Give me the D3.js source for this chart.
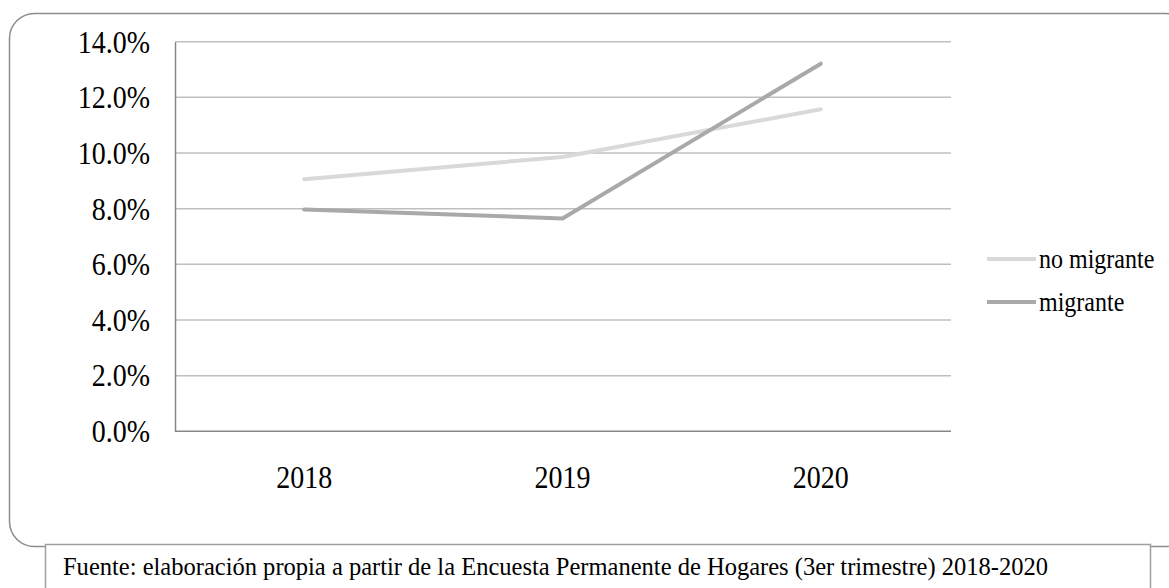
<!DOCTYPE html>
<html>
<head>
<meta charset="utf-8">
<script src="https://cdn.jsdelivr.net/npm/d3@7"></script>
<style>
  html, body { margin: 0; padding: 0; background: #fff; }
  svg { display: block; }
  text { font-family: "Liberation Serif", "Times New Roman", serif; fill: #000; }
  .tall { transform-box: fill-box; transform-origin: center; transform: scaleY(1.15); }
</style>
</head>
<body>
<svg id="chart" width="1169" height="588"></svg>
<script>
const categories = ["2018", "2019", "2020"];
const noMigrante = [0.0906, 0.0986, 0.1157];
const migrante = [0.0797, 0.0765, 0.1321];
const yTicks = [0, 0.02, 0.04, 0.06, 0.08, 0.10, 0.12, 0.14];
const seriesNames = ["no migrante", "migrante"];
const seriesColors = ["#d9d9d9", "#a9a9a9"];
const sourceText = "Fuente: elaboración propia a partir de la Encuesta Permanente de Hogares (3er trimestre) 2018-2020";
const FONT = "Liberation Serif";

const svg = d3.select("#chart");

// outer rounded frame
svg.append("rect")
  .attr("x", 9.5).attr("y", 13.5)
  .attr("width", 1181).attr("height", 533)
  .attr("rx", 25).attr("ry", 25)
  .attr("fill", "#fff").attr("stroke", "#8c8c8c").attr("stroke-width", 1.5);

const x = d3.scaleBand().domain(categories).range([175, 950]).padding(0);
const y = d3.scaleLinear().domain([0, 0.14]).range([431.3, 41.7]);

// gridlines
svg.append("g").selectAll("line").data(yTicks.filter(d => d > 0)).join("line")
  .attr("x1", 175).attr("x2", 951)
  .attr("y1", d => y(d)).attr("y2", d => y(d))
  .attr("stroke", "#bfbfbf").attr("stroke-width", 1.5);

// y axis
const yAxis = d3.axisLeft(y).tickValues(yTicks).tickSize(0).tickPadding(25)
  .tickFormat(d3.format(".1%"));
const gy = svg.append("g").attr("transform", "translate(175,0)").call(yAxis)
  .attr("font-family", FONT);
gy.select(".domain").attr("stroke", "#878787").attr("stroke-width", 1.5);
gy.selectAll("text").attr("class", "tall").attr("font-size", 28).attr("font-family", FONT)
  .attr("fill", "#000").attr("dy", "0.32em");

// x axis
const xAxis = d3.axisBottom(x).tickSize(0).tickPadding(35);
const gx = svg.append("g").attr("transform", "translate(0,431.3)").call(xAxis)
  .attr("font-family", FONT);
gx.select(".domain").attr("stroke", "#878787").attr("stroke-width", 1.5).attr("d", "M175,0H951");
gx.selectAll("text").attr("class", "tall").attr("font-size", 28).attr("font-family", FONT).attr("fill", "#000");

// lines
const line = d3.line()
  .x((d, i) => x(categories[i]) + x.bandwidth() / 2)
  .y(d => y(d));
const data = [noMigrante, migrante];
svg.append("g").selectAll("path").data(data).join("path")
  .attr("d", d => line(d))
  .attr("fill", "none")
  .attr("stroke", (d, i) => seriesColors[i])
  .attr("stroke-width", 4)
  .attr("stroke-linecap", "round")
  .attr("stroke-linejoin", "round");

// legend
const legY = [259, 302];
const leg = svg.append("g").selectAll("g").data(seriesNames).join("g")
  .attr("transform", (d, i) => `translate(987,${legY[i]})`);
leg.append("line").attr("x1", 0).attr("x2", 49).attr("y1", 0).attr("y2", 0)
  .attr("stroke", (d, i) => seriesColors[i]).attr("stroke-width", 4);
leg.append("text").attr("class", "tall").attr("x", 52).attr("y", 0).attr("dy", "0.32em")
  .attr("font-family", FONT).attr("font-size", 24).text(d => d);

// source box
svg.append("rect")
  .attr("x", 45.5).attr("y", 544.5).attr("width", 1105).attr("height", 60)
  .attr("fill", "#fff").attr("stroke", "#a0a0a0").attr("stroke-width", 1.5);
svg.append("text").attr("class", "tall").attr("x", 63).attr("y", 574)
  .attr("font-family", FONT).attr("font-size", 22)
  .attr("textLength", 985).attr("lengthAdjust", "spacingAndGlyphs")
  .text(sourceText);
</script>
</body>
</html>
